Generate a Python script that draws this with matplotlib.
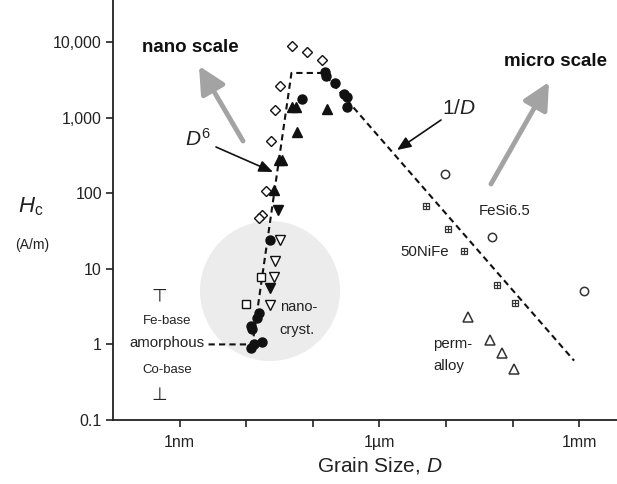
import matplotlib
matplotlib.use("Agg")
import matplotlib.pyplot as plt
from matplotlib.patches import Ellipse, FancyArrowPatch
from matplotlib.ticker import FixedLocator, FixedFormatter, NullLocator

plt.rcParams['font.family'] = ['Liberation Sans', 'DejaVu Sans']
plt.rcParams['mathtext.fontset'] = 'custom'
plt.rcParams['mathtext.rm'] = 'Liberation Sans'
plt.rcParams['mathtext.it'] = 'Liberation Sans:italic'

# ---------------- data (grain size in nm, Hc in A/m) ----------------
open_diamond_x = [49.4, 83, 139, 32.7, 27.5, 23.9, 19.5, 17.0, 15.3]
open_diamond_y = [8750, 7280, 5710, 2590, 1280, 484, 106, 50.9, 46.4]

filled_circle_x = [69.8, 154.5, 160, 218, 298, 330, 330,
                   23.1, 15.3, 14.3, 11.6, 12.4, 12.9, 17.0, 12.0]
filled_circle_y = [1740, 3960, 3510, 2835, 2028, 1850, 1365,
                   23.8, 2.57, 2.21, 1.73, 1.58, 1.0, 1.06, 0.91]

filled_tri_up_x = [49.4, 56.8, 58.8, 31.6, 35.0, 165.5, 25.7]
filled_tri_up_y = [1365, 1365, 637, 272, 272, 1283, 109]

filled_tri_down_x = [29.5, 22.4]
filled_tri_down_y = [59.2, 5.5]

open_tri_down_x = [32.7, 26.6, 25.7, 23.1]
open_tri_down_y = [23.8, 12.5, 7.9, 3.28]

open_square_x = [16.4, 9.8]
open_square_y = [7.7, 3.38]

nife_x = [5050, 10790, 18740, 58600, 109000]      # 50NiFe (crossed squares)
nife_y = [66.9, 33.2, 17.0, 6.03, 3.49]

fesi_x = [9730, 49300, 1.18e6]                     # FeSi6.5 (open circles)
fesi_y = [177, 26.0, 5.02]

permalloy_x = [21500, 46000, 69600, 105000]        # permalloy (open triangles)
permalloy_y = [2.28, 1.16, 0.78, 0.48]

trend_x = [2.72, 12.4, 47.8, 144, 8.36e5]          # dashed guide: D^6 and 1/D
trend_y = [1.0, 1.0, 3900, 3900, 0.61]

ytick_vals = [0.1, 1, 10, 100, 1000, 10000]
ytick_labels = ['0.1', '1', '10', '100', '1,000', '10,000']
xtick_vals = [1, 10, 100, 1e3, 1e4, 1e5, 1e6]
xtick_labels = ['1nm', '', '', '1\u00b5m', '', '', '1mm']

W, H = 617, 484
fig = plt.figure(figsize=(W / 100, H / 100), dpi=100)
AX_L, AX_R, AX_B, AX_T = 113, 617, 420, 0
ax = fig.add_axes([AX_L / W, (H - AX_B) / H, (AX_R - AX_L) / W, (AX_B - AX_T) / H])
ax.set_xscale('log')
ax.set_yscale('log')
ax.set_xlim(0.1, 3.69e6)
ax.set_ylim(0.1, 3.6e4)


def P(px, py):
    """image pixel -> axes fraction (for annotations only)"""
    return ((px - AX_L) / (AX_R - AX_L), (AX_B - py) / (AX_B - AX_T))


tc = '#222222'
# grey nanocrystalline region
ax.add_patch(Ellipse(P(270, 291), 140 / (AX_R - AX_L), 140 / (AX_B - AX_T),
                     transform=ax.transAxes, facecolor='#ececec', edgecolor='none', zorder=0))

ax.plot(trend_x, trend_y, color='#111111', lw=1.5, ls=(0, (3, 2)), zorder=2)

ms = 6.5
ax.plot(open_diamond_x, open_diamond_y, 'D', ms=5.5, mfc='white', mec='#111', mew=1.0, ls='none', zorder=3)
ax.plot(filled_circle_x, filled_circle_y, 'o', ms=ms, mfc='#111', mec='#111', ls='none', zorder=3)
ax.plot(filled_tri_up_x, filled_tri_up_y, '^', ms=ms + 0.5, mfc='#111', mec='#111', ls='none', zorder=3)
ax.plot(filled_tri_down_x, filled_tri_down_y, 'v', ms=ms + 0.5, mfc='#111', mec='#111', ls='none', zorder=3)
ax.plot(open_tri_down_x, open_tri_down_y, 'v', ms=ms, mfc='white', mec='#111', mew=1.0, ls='none', zorder=3)
ax.plot(open_square_x, open_square_y, 's', ms=5.5, mfc='white', mec='#111', mew=1.0, ls='none', zorder=3)
ax.plot(nife_x, nife_y, 's', ms=5, mfc='white', mec='#333', mew=0.9, ls='none', zorder=3)
ax.plot(nife_x, nife_y, '+', ms=5, mec='#333', mew=0.8, ls='none', zorder=4)
ax.plot(fesi_x, fesi_y, 'o', ms=6, mfc='white', mec='#333', mew=1.1, ls='none', zorder=3)
ax.plot(permalloy_x, permalloy_y, '^', ms=6.5, mfc='white', mec='#333', mew=1.1, ls='none', zorder=3)

# axes styling
for s in ['top', 'right']:
    ax.spines[s].set_visible(False)
for s in ['left', 'bottom']:
    ax.spines[s].set_linewidth(1.3)
    ax.spines[s].set_color('#222')
ax.yaxis.set_major_locator(FixedLocator(ytick_vals))
ax.yaxis.set_major_formatter(FixedFormatter(ytick_labels))
ax.yaxis.set_minor_locator(NullLocator())
ax.xaxis.set_major_locator(FixedLocator(xtick_vals))
ax.xaxis.set_major_formatter(FixedFormatter(xtick_labels))
ax.xaxis.set_minor_locator(NullLocator())
ax.tick_params(axis='both', direction='out', length=5, width=1.2, color='#222',
               labelsize=11.5, labelcolor=tc)
ax.tick_params(axis='y', pad=3)
ax.tick_params(axis='x', pad=6)

# labels
ax.text(*P(380, 466), 'Grain Size, $\\mathit{D}$', transform=ax.transAxes, ha='center', va='center',
        fontsize=15, color=tc, clip_on=False)
ax.text(*P(31, 207), '$\\mathit{H}_{\\mathrm{c}}$', transform=ax.transAxes, ha='center', va='center',
        fontsize=16, color=tc, clip_on=False)
ax.text(*P(32, 245), '(A/m)', transform=ax.transAxes, ha='center', va='center',
        fontsize=10, color=tc, clip_on=False)

ax.text(*P(190, 48), 'nano scale', transform=ax.transAxes, ha='center', va='center',
        fontsize=13.5, fontweight='bold', color='#111')
ax.text(*P(556, 62), 'micro scale', transform=ax.transAxes, ha='center', va='center',
        fontsize=13.5, fontweight='bold', color='#111', clip_on=False)

grey = '#a3a3a3'
for (x0, y0), (x1, y1) in [((243, 141), (199, 66)), ((491, 184), (549, 82))]:
    ax.add_patch(FancyArrowPatch(P(x0, y0), P(x1, y1), transform=ax.transAxes,
                                 arrowstyle='-|>,head_length=0.9,head_width=0.45',
                                 mutation_scale=18, lw=3.5, color=grey, shrinkA=0, shrinkB=0))

ax.text(*P(198, 139), '$\\mathit{D}^{\\mathrm{6}}$', transform=ax.transAxes, ha='center', va='center',
        fontsize=15, color=tc)
ax.text(*P(459, 108), '$\\mathrm{1/}\\mathit{D}$', transform=ax.transAxes, ha='center', va='center',
        fontsize=15, color=tc)
for (x0, y0), (x1, y1) in [((216, 147), (273, 172)), ((441, 120), (397, 150))]:
    ax.add_patch(FancyArrowPatch(P(x0, y0), P(x1, y1), transform=ax.transAxes,
                                 arrowstyle='-|>,head_length=0.6,head_width=0.25',
                                 mutation_scale=14, lw=1.2, color='#111', shrinkA=0, shrinkB=0))

ax.text(*P(505, 211), 'FeSi6.5', transform=ax.transAxes, ha='center', va='center', fontsize=10.8, color=tc)
ax.text(*P(425, 252), '50NiFe', transform=ax.transAxes, ha='center', va='center', fontsize=10.8, color=tc)
ax.text(*P(433, 344), 'perm-', transform=ax.transAxes, ha='left', va='center', fontsize=10.8, color=tc)
ax.text(*P(433, 366), 'alloy', transform=ax.transAxes, ha='left', va='center', fontsize=10.8, color=tc)
ax.text(*P(280, 307), 'nano-', transform=ax.transAxes, ha='left', va='center', fontsize=10.5, color=tc)
ax.text(*P(279, 330), 'cryst.', transform=ax.transAxes, ha='left', va='center', fontsize=10.5, color=tc)

ax.text(*P(159, 296), '\u22a4', transform=ax.transAxes, ha='center', va='center', fontsize=13,
        family='DejaVu Sans', color=tc)
ax.text(*P(167, 321), 'Fe-base', transform=ax.transAxes, ha='center', va='center', fontsize=9.5, color=tc)
ax.text(*P(167, 343), 'amorphous', transform=ax.transAxes, ha='center', va='center', fontsize=10.8, color=tc)
ax.text(*P(167, 370), 'Co-base', transform=ax.transAxes, ha='center', va='center', fontsize=9.5, color=tc)
ax.text(*P(159, 395), '\u22a5', transform=ax.transAxes, ha='center', va='center', fontsize=13,
        family='DejaVu Sans', color=tc)

fig.savefig('out.png', dpi=100)
